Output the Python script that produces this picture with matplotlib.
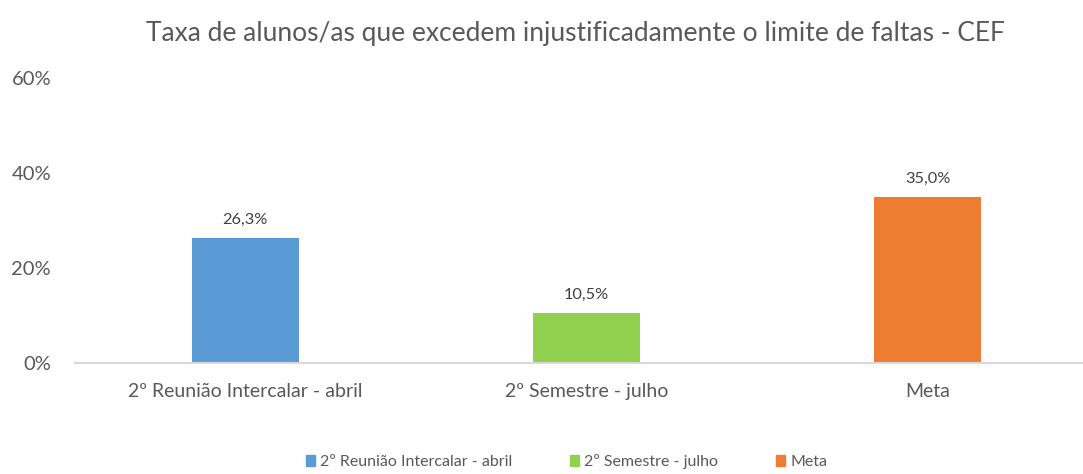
import matplotlib.pyplot as plt
from matplotlib.patches import Patch

# Data
categories = ["2º Reunião Intercalar - abril", "2º Semestre - julho", "Meta"]
values = [26.3, 10.5, 35.0]
bar_colors = ["#5B9BD5", "#92D050", "#ED7D31"]
y_ticks = [0, 20, 40, 60]

text_color = "#595959"
plt.rcParams['font.family'] = ['Lato', 'DejaVu Sans']

fig = plt.figure(figsize=(10.83, 4.74), dpi=100)
ax = fig.add_axes([0.069, 0.234, 0.945, 0.601])

x = range(len(categories))
bars = ax.bar(x, values, width=0.315, color=bar_colors, zorder=2)

# Data labels above each bar
for rect, v in zip(bars, values):
    ax.annotate(f"{v:.1f}%".replace(".", ","),
                xy=(rect.get_x() + rect.get_width() / 2, rect.get_height()),
                xytext=(0, 8), textcoords="offset points",
                ha="center", va="bottom", fontsize=11.8, color="#404040")

ax.set_xlim(-0.5, len(categories) - 0.5)
ax.set_ylim(0, 60)
ax.set_yticks(y_ticks)
ax.set_yticklabels([f"{t}%" for t in y_ticks], fontsize=14.5, color=text_color)
ax.set_xticks(list(x))
ax.set_xticklabels(categories, fontsize=14, color=text_color)
ax.tick_params(axis="both", length=0)
ax.tick_params(axis="x", pad=14)
ax.tick_params(axis="y", pad=17)

for side in ["top", "right", "left"]:
    ax.spines[side].set_visible(False)
ax.spines["bottom"].set_color("#D9D9D9")
ax.spines["bottom"].set_linewidth(1.5)

fig.text(0.531, 0.93, "Taxa de alunos/as que excedem injustificadamente o limite de faltas - CEF",
         ha="center", va="center", fontsize=19, color=text_color)

handles = [Patch(color=c, label=l) for c, l in zip(bar_colors, categories)]
fig.legend(handles=handles, loc="lower center", bbox_to_anchor=(0.523, -0.02), ncol=3,
           frameon=False, fontsize=11.5, handlelength=0.6, handleheight=0.6,
           handletextpad=0.3, columnspacing=3.6, labelcolor=text_color)

fig.savefig("out.png", dpi=100)
